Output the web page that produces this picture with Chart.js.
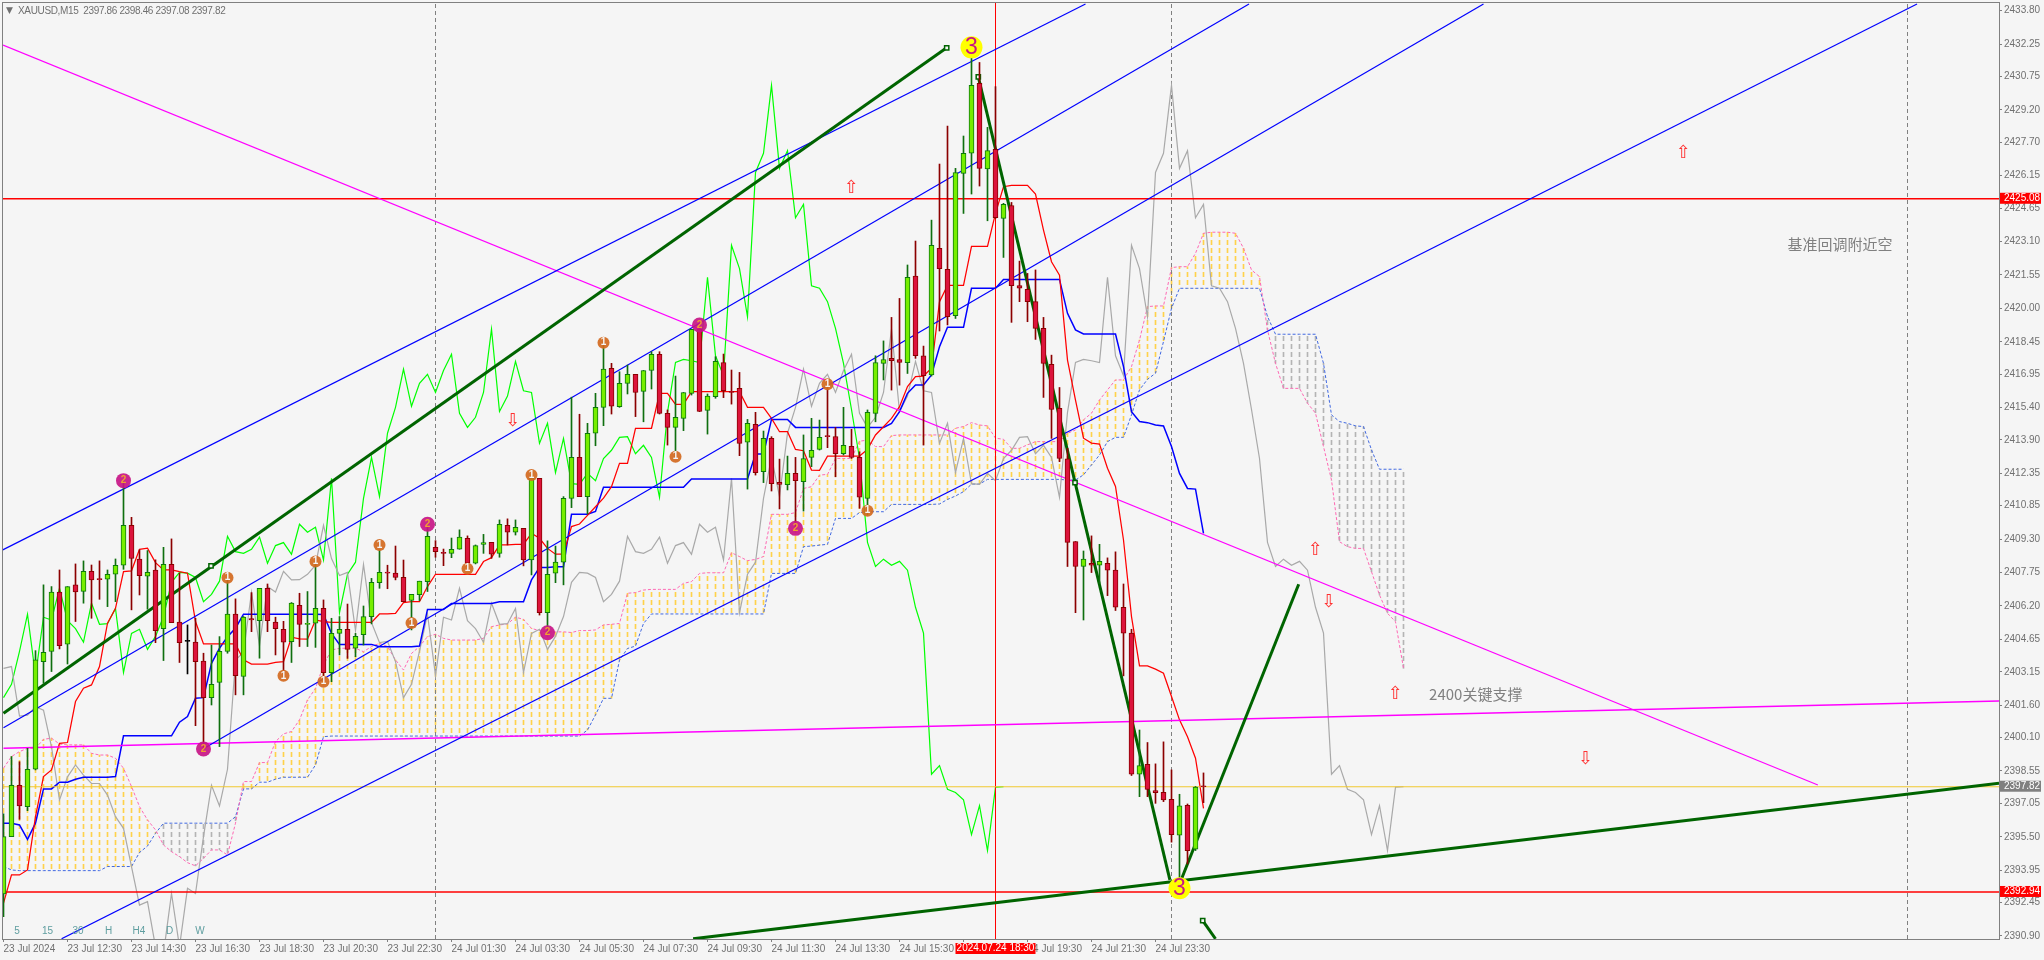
<!DOCTYPE html>
<html>
<head>
<meta charset="utf-8">
<title>XAUUSD,M15</title>
<script src="https://cdn.jsdelivr.net/npm/chart.js@4"></script>
<style>
  html, body { margin: 0; padding: 0; background: #f5f5f5; }
  canvas { display: block; }
</style>
</head>
<body>
<canvas id="chart" width="2044" height="960"></canvas>
<script>
// candles (bar index = array index)
const opens = [
  2392.85,2395.51,2397.89,2396.90,2398.63,2403.62,2404.09,2406.84,2404.43,2407.18,
  2406.88,2407.81,2407.44,2407.44,2407.67,2408.09,2409.94,2408.37,2407.58,2407.86,
  2405.15,2408.13,2405.45,2404.56,2404.53,2403.64,2401.95,2402.66,2404.09,2405.82,
  2402.93,2405.62,2405.52,2407.02,2405.45,2405.12,2404.55,2406.23,2405.35,2405.40,
  2406.09,2403.11,2404.93,2405.12,2404.24,2404.87,2405.71,2407.28,2407.76,2407.72,
  2407.53,2406.46,2406.73,2407.33,2408.92,2408.69,2408.64,2408.83,2409.34,2408.18,
  2409.05,2409.15,2408.64,2409.94,2409.62,2409.80,2408.33,2412.12,2405.89,2407.72,
  2408.23,2411.19,2413.09,2411.27,2414.21,2415.41,2417.22,2415.44,2416.52,2416.94,
  2416.15,2417.12,2417.87,2415.13,2414.48,2414.90,2416.06,2419.03,2415.27,2415.90,
  2417.49,2416.15,2416.29,2413.79,2414.62,2412.43,2413.97,2411.93,2411.82,2412.35,
  2411.96,2413.09,2413.46,2414.08,2414.06,2413.26,2413.60,2413.09,2411.19,2415.13,
  2417.45,2417.68,2417.63,2417.48,2421.50,2417.80,2416.91,2422.78,2421.81,2419.66,
  2426.26,2427.19,2430.43,2426.47,2427.37,2424.17,2424.77,2421.06,2420.88,2420.31,
  2419.07,2417.40,2415.36,2413.02,2409.19,2408.03,2408.18,2408.09,2408.18,2407.86,
  2406.14,2404.94,2398.40,2398.86,2397.64,2397.56,2397.24,2395.57,2396.96,2394.92,2397.86
];
const highs = [
  2396.56,2399.22,2398.98,2399.60,2404.13,2407.18,2407.10,2407.87,2407.10,2408.15,
  2408.29,2408.10,2408.29,2407.87,2408.38,2411.97,2410.31,2408.80,2408.77,2408.34,
  2408.92,2409.31,2407.72,2405.32,2405.63,2404.01,2404.39,2404.78,2407.49,2406.53,
  2405.71,2406.82,2407.02,2407.22,2405.68,2405.49,2406.36,2406.79,2406.87,2408.26,
  2406.48,2405.63,2405.71,2406.29,2404.93,2406.20,2407.48,2408.80,2408.09,2408.98,
  2408.33,2406.74,2407.35,2409.88,2409.23,2408.84,2409.35,2409.73,2409.45,2409.03,
  2409.52,2409.15,2410.19,2410.24,2410.19,2409.80,2412.28,2412.12,2409.22,2408.98,
  2411.27,2415.88,2415.09,2414.67,2416.06,2418.46,2417.45,2417.06,2417.37,2416.94,
  2417.12,2417.99,2417.99,2415.29,2416.86,2416.10,2419.03,2419.15,2416.03,2417.76,
  2417.88,2417.14,2417.03,2414.85,2415.18,2414.31,2414.05,2413.01,2413.15,2413.09,
  2414.13,2414.90,2414.82,2416.45,2414.48,2415.41,2414.39,2413.35,2415.29,2417.80,
  2418.49,2419.58,2420.46,2422.01,2423.12,2418.25,2424.09,2426.69,2428.45,2426.49,
  2427.99,2431.82,2431.40,2428.39,2430.28,2424.87,2424.91,2422.19,2421.62,2421.78,
  2419.58,2417.83,2416.33,2413.51,2409.19,2408.75,2409.45,2409.06,2408.43,2408.71,
  2407.22,2405.12,2400.45,2399.87,2398.88,2399.90,2398.60,2397.47,2397.02,2397.83,2398.46
];
const lows = [
  2391.80,2395.51,2396.31,2396.71,2398.60,2402.62,2403.16,2404.21,2403.51,2405.48,
  2406.33,2405.63,2406.51,2406.17,2406.40,2407.90,2406.02,2406.71,2406.05,2404.50,
  2403.67,2405.43,2403.58,2403.05,2400.65,2399.60,2401.61,2399.68,2404.01,2402.08,
  2402.08,2405.01,2403.78,2405.01,2403.93,2402.93,2403.58,2404.32,2404.32,2404.28,
  2402.77,2402.69,2403.93,2403.77,2403.85,2404.39,2405.37,2407.02,2407.00,2407.41,
  2406.39,2405.09,2406.45,2406.87,2408.46,2408.07,2408.44,2408.83,2408.03,2408.15,
  2408.64,2408.41,2408.46,2409.03,2409.49,2408.06,2407.64,2405.78,2404.93,2407.28,
  2407.18,2410.76,2411.27,2410.47,2413.63,2414.56,2415.10,2415.41,2416.03,2414.98,
  2414.74,2416.26,2415.10,2413.66,2413.12,2414.33,2415.98,2415.21,2414.17,2415.83,
  2415.86,2415.56,2413.17,2411.62,2412.27,2411.92,2411.53,2410.70,2411.58,2409.80,
  2410.60,2412.66,2413.43,2413.54,2412.19,2413.20,2413.04,2410.73,2410.42,2414.74,
  2416.68,2416.21,2416.44,2416.98,2417.68,2413.66,2416.86,2418.95,2419.23,2419.53,
  2424.40,2425.30,2425.67,2424.06,2424.17,2422.36,2419.35,2420.31,2419.38,2418.56,
  2415.87,2413.97,2412.89,2408.03,2405.89,2405.55,2407.75,2407.25,2406.68,2405.99,
  2402.96,2398.34,2397.36,2397.36,2397.05,2397.13,2395.25,2393.42,2394.24,2394.86,2397.08
];
const closes = [
  2395.51,2397.89,2396.93,2398.63,2403.70,2404.05,2406.84,2404.36,2407.10,2406.85,
  2407.81,2407.41,2407.42,2407.67,2408.09,2409.94,2408.40,2407.61,2407.76,2405.06,
  2408.13,2405.43,2404.50,2404.56,2403.62,2401.95,2402.57,2404.10,2405.82,2402.97,
  2405.68,2405.55,2407.02,2405.52,2405.15,2404.52,2406.33,2405.35,2405.38,2406.09,
  2403.11,2404.93,2405.12,2404.19,2404.79,2405.71,2407.30,2407.76,2407.72,2407.52,
  2406.40,2406.74,2407.35,2409.43,2408.72,2408.64,2408.83,2409.39,2408.18,2409.00,
  2409.14,2408.60,2409.99,2409.62,2409.85,2408.33,2412.12,2405.89,2407.67,2408.23,
  2411.19,2413.09,2411.27,2414.21,2415.41,2417.18,2415.46,2416.52,2416.94,2416.10,
  2417.12,2417.87,2415.13,2414.48,2414.95,2416.10,2419.03,2415.22,2415.93,2417.54,
  2416.18,2416.10,2413.74,2414.67,2412.38,2413.97,2411.87,2411.84,2412.35,2412.01,
  2413.04,2413.42,2414.02,2414.05,2413.26,2413.65,2413.09,2411.24,2415.18,2417.49,
  2417.63,2417.57,2417.49,2421.44,2417.80,2416.88,2422.92,2421.84,2419.61,2426.30,
  2427.19,2430.34,2426.49,2427.31,2424.20,2424.82,2421.05,2420.93,2420.31,2419.07,
  2417.45,2415.31,2413.04,2409.15,2408.03,2408.37,2408.09,2408.27,2407.86,2406.14,
  2404.94,2398.40,2398.80,2397.70,2397.55,2397.21,2395.60,2396.94,2394.86,2397.80,2397.82
];

// ichimoku lines
const tenkan = [
  2392.42,2393.73,2393.73,2393.96,2396.43,2398.29,2398.60,2399.83,2399.87,2401.77,
  2402.39,2402.54,2403.39,2405.40,2406.09,2407.79,2407.83,2408.83,2408.88,2408.21,
  2407.87,2407.87,2407.79,2407.72,2405.48,2404.44,2404.44,2404.44,2404.44,2404.44,
  2403.70,2403.51,2403.50,2403.51,2403.59,2403.62,2404.75,2404.67,2404.66,2405.55,
  2405.48,2405.44,2405.44,2405.44,2405.44,2405.44,2405.44,2405.83,2405.83,2405.86,
  2406.36,2406.40,2406.40,2407.10,2407.67,2407.67,2407.67,2407.67,2407.67,2407.67,
  2408.26,2408.44,2409.03,2409.03,2409.06,2409.06,2409.57,2409.34,2408.87,2408.60,
  2408.60,2409.88,2410.00,2410.40,2410.80,2411.20,2411.73,2412.81,2412.81,2414.44,
  2414.44,2414.44,2416.06,2416.06,2415.55,2415.55,2416.14,2416.14,2416.14,2416.14,
  2416.14,2416.14,2416.14,2415.41,2415.41,2415.41,2414.90,2414.28,2414.28,2413.46,
  2413.40,2412.50,2412.49,2413.15,2413.15,2413.15,2413.15,2413.15,2413.46,2414.13,
  2414.51,2414.90,2415.44,2416.37,2416.83,2416.86,2417.22,2420.31,2421.06,2421.06,
  2421.06,2422.87,2422.87,2422.87,2424.40,2425.64,2425.70,2425.70,2425.70,2425.30,
  2423.63,2422.16,2421.54,2417.60,2415.75,2413.98,2413.75,2413.71,2412.59,2411.74,
  2409.26,2405.71,2403.42,2403.42,2403.27,2403.08,2402.00,2400.92,2400.14,2399.14,2396.82
];
const kijun = [
  2396.13,2396.13,2396.05,2395.38,2396.13,2397.72,2397.72,2398.03,2398.03,2398.17,
  2398.26,2398.26,2398.26,2398.26,2398.29,2400.18,2400.18,2400.18,2400.18,2400.18,
  2400.18,2400.18,2400.81,2401.07,2401.92,2401.95,2403.54,2404.24,2404.78,2405.17,
  2405.82,2405.82,2405.82,2405.82,2405.82,2405.82,2405.82,2405.82,2405.82,2405.82,
  2405.81,2404.93,2404.42,2404.42,2404.42,2404.42,2404.42,2404.31,2404.31,2404.31,
  2404.31,2404.31,2404.34,2406.04,2406.04,2406.04,2406.32,2406.32,2406.32,2406.32,
  2406.32,2406.32,2406.40,2406.40,2406.40,2406.40,2407.41,2407.99,2407.99,2408.02,
  2408.02,2410.45,2410.45,2410.45,2410.58,2411.70,2411.70,2411.70,2411.70,2411.70,
  2411.70,2411.70,2411.70,2411.70,2411.70,2411.70,2412.09,2412.09,2412.09,2412.09,
  2412.09,2412.09,2412.09,2412.09,2413.25,2413.25,2414.85,2414.85,2414.85,2414.48,
  2414.48,2414.48,2414.48,2414.48,2414.48,2414.48,2414.48,2414.48,2414.48,2414.48,
  2414.48,2414.67,2415.21,2416.06,2416.45,2416.45,2416.91,2418.22,2419.12,2419.12,
  2419.12,2420.93,2420.93,2420.93,2420.93,2421.34,2421.34,2421.34,2421.34,2421.34,
  2421.34,2421.34,2421.34,2419.77,2419.00,2418.81,2418.81,2418.81,2418.81,2418.81,
  2417.30,2415.21,2414.75,2414.70,2414.59,2414.55,2413.59,2412.35,2411.65,2411.62,2409.57
];
const senkouA = [
  2398.68,2399.22,2399.45,2399.60,2399.60,2400.02,2400.07,2399.80,2399.76,2399.76,
  2399.76,2399.37,2399.29,2399.29,2399.14,2398.68,2397.83,2396.90,2396.28,2395.82,
  2395.12,2394.81,2394.58,2394.30,2394.15,2394.50,2394.89,2394.89,2394.66,2396.13,
  2398.06,2398.06,2398.94,2398.94,2399.91,2400.27,2400.38,2400.92,2401.84,2402.38,
  2403.47,2404.16,2404.24,2404.24,2404.24,2404.08,2404.32,2404.47,2404.32,2403.70,
  2403.23,2404.00,2404.32,2404.78,2404.89,2404.70,2404.62,2404.62,2404.62,2404.62,
  2404.70,2405.24,2405.32,2405.37,2405.68,2405.58,2405.16,2405.06,2405.00,2405.00,
  2405.00,2404.97,2405.06,2405.06,2405.09,2405.32,2405.35,2405.39,2406.79,2406.82,
  2406.94,2406.97,2406.97,2406.97,2406.97,2407.25,2407.33,2407.71,2407.74,2407.74,
  2407.74,2408.67,2408.49,2408.30,2408.36,2408.49,2410.45,2410.45,2410.45,2410.53,
  2411.65,2411.73,2412.27,2412.30,2413.04,2413.04,2413.04,2413.84,2413.89,2413.59,
  2413.59,2414.10,2414.13,2414.13,2414.13,2414.13,2414.13,2414.13,2414.13,2414.44,
  2414.52,2414.70,2414.59,2414.55,2413.98,2413.93,2413.51,2413.51,2413.67,2413.82,
  2413.82,2413.82,2413.82,2414.21,2414.36,2414.83,2415.14,2415.75,2416.22,2416.68,
  2416.68,2417.30,2418.53,2420.08,2420.11,2420.11,2421.89,2421.93,2421.93,2422.55,
  2423.48,2423.53,2423.53,2423.53,2423.48,2422.79,2421.78,2421.47,2419.00,2417.45,
  2416.29,2416.29,2416.29,2415.60,2415.14,2413.59,2412.04,2409.18,2408.95,2408.87,
  2408.87,2407.79,2406.71,2405.86,2405.47,2403.31
];
const senkouB = [
  2394.12,2393.96,2393.93,2393.93,2393.93,2393.93,2393.93,2393.93,2393.93,2393.93,
  2393.93,2393.93,2393.93,2394.12,2394.12,2394.12,2394.12,2394.77,2395.07,2395.66,
  2396.13,2396.13,2396.13,2396.13,2396.13,2396.13,2396.13,2396.13,2396.13,2396.43,
  2397.72,2397.72,2398.03,2398.03,2398.17,2398.26,2398.26,2398.26,2398.26,2398.83,
  2400.14,2400.17,2400.17,2400.17,2400.17,2400.17,2400.17,2400.17,2400.17,2400.17,
  2400.17,2400.17,2400.17,2400.17,2400.17,2400.17,2400.17,2400.17,2400.17,2400.17,
  2400.17,2400.17,2400.17,2400.17,2400.17,2400.17,2400.17,2400.17,2400.17,2400.17,
  2400.17,2400.17,2400.17,2400.45,2401.15,2401.92,2401.92,2403.69,2404.23,2404.34,
  2405.39,2405.83,2405.83,2405.83,2405.83,2405.83,2405.83,2405.83,2405.83,2405.83,
  2405.83,2405.83,2405.83,2405.83,2405.83,2405.83,2407.71,2407.71,2407.71,2407.71,
  2408.95,2408.98,2409.02,2409.06,2410.26,2410.26,2410.26,2410.53,2410.57,2410.57,
  2410.57,2410.91,2410.91,2410.91,2410.91,2410.91,2410.91,2410.93,2411.14,2411.30,
  2411.50,2411.85,2411.85,2412.07,2412.07,2412.07,2412.07,2412.07,2412.07,2412.07,
  2412.07,2412.07,2412.07,2412.04,2412.04,2412.28,2412.74,2413.20,2413.82,2414.02,
  2414.02,2415.06,2416.22,2416.71,2416.99,2418.46,2420.00,2420.93,2420.93,2420.93,
  2420.93,2420.93,2420.93,2420.93,2420.93,2420.93,2420.93,2420.93,2419.62,2418.80,
  2418.80,2418.80,2418.80,2418.80,2418.80,2417.45,2415.06,2414.75,2414.67,2414.55,
  2414.52,2413.44,2412.54,2412.54,2412.54,2412.54
];
// grey line, the bars before the visible window
const laggedHead = [
  2403.31,2403.39,2401.10,2401.14,2401.53,2401.37,2399.67,2397.20,2398.28,2398.83,
  2398.36,2397.97,2397.97,2397.43,2396.43,2395.89,2394.11,2392.33,2392.49,2390.40,
  2390.09,2392.87,2390.40,2393.11,2392.87
];
const chikouShift = 25;

// drawn objects: [[bar, price], ...]
const channelLines = [
  [[-0.1, 2408.80], [135.25, 2434.11]],
  [[0, 2400.55], [155.69, 2434.11]],
  [[24.88, 2399.56], [185, 2434.11]],
  [[7.26, 2390.77], [239.19, 2434.11]]
];
const magentaLines = [
  [[-0.06, 2432.21], [226.8, 2397.90]],
  [[0, 2399.60], [249.44, 2401.80]]
];
const trendLines = [
  [[0, 2401.23], [117.9, 2432.08]],
  [[121.85, 2430.73], [145.8, 2393.50]],
  [[147.3, 2393.59], [161.9, 2407.21]],
  [[149.9, 2391.61], [151.5, 2390.77]],
  [[86.2, 2390.77], [249.44, 2397.98]]
];
const trendAnchors = [[117.9, 2432.08], [25.94, 2408.06], [121.85, 2430.73], [133.94, 2411.92], [149.9, 2391.61]];
const supportLevels = [2425.08, 2392.94];
const lastPrice = 2397.82;
const periodSeparators = [54, 146, 238];
const crosshairBar = 124;

const waveOne = [[28, 2407.51], [35, 2402.96], [39, 2408.26], [40, 2402.69], [47, 2409.03], [51, 2405.41],
  [58, 2407.93], [66, 2412.27], [75, 2418.41], [84, 2413.12], [103, 2416.48], [108, 2410.62]];
const waveTwo = [[15, 2412.01], [25, 2399.57], [53, 2409.99], [68, 2404.96], [87, 2419.23], [99, 2409.80]];
const waveThree = [[121, 2432.10], [147, 2393.11]];

const arrowsUp = [[106, 2425.58], [210, 2427.20], [164, 2408.77], [174, 2402.11]];
const arrowsDown = [[63.7, 2414.75], [165.7, 2406.35], [197.8, 2399.09]];
const notes = [['基准回调附近空', 223, 2422.98], ['2400关键支撑', 178.2, 2402.11]];

const priceTicks = [2433.80,2432.25,2430.75,2429.20,2427.70,2426.15,2424.65,2423.10,2421.55,2420.00,
  2418.45,2416.95,2415.40,2413.90,2412.35,2410.85,2409.30,2407.75,2406.20,2404.65,2403.15,2401.60,
  2400.10,2398.55,2397.05,2395.50,2393.95,2392.45,2390.90];
const timeLabels = ['23 Jul 2024','23 Jul 12:30','23 Jul 14:30','23 Jul 16:30','23 Jul 18:30','23 Jul 20:30',
  '23 Jul 22:30','24 Jul 01:30','24 Jul 03:30','24 Jul 05:30','24 Jul 07:30','24 Jul 09:30','24 Jul 11:30',
  '24 Jul 13:30','24 Jul 15:30','24 Jul 17:30','24 Jul 19:30','24 Jul 21:30','24 Jul 23:30'];
const timeTickStep = 8;
const timeframes = ['5', '15', '30', 'H', 'H4', 'D', 'W'];
const header = 'XAUUSD,M15  2397.86 2398.46 2397.08 2397.82';
const crosshairTime = '2024.07.24 18:30';

const uiFont = '"Liberation Sans", sans-serif';
const grey = '#808080';
const tickGrey = '#707070';

function toPoints(pairs) {
  return pairs.map(p => ({ x: p[0], y: p[1] }));
}
function seriesPoints(values, offset) {
  return values.map((v, i) => ({ x: i + (offset || 0), y: v }));
}
function line(data, color, width, order, dash) {
  return { type: 'line', data: data, borderColor: color, borderWidth: width, borderDash: dash || [],
    pointRadius: 0, tension: 0, fill: false, order: order };
}
function bars(data, fill, border, thickness, order) {
  return { type: 'bar', data: data, backgroundColor: fill, borderColor: border,
    borderWidth: thickness > 1 ? 1 : 0, borderSkipped: false, barThickness: thickness,
    grouped: false, minBarLength: 1, order: order };
}
function markers(data, color, radius, order) {
  return { type: 'line', showLine: false, data: toPoints(data), pointStyle: 'circle', pointRadius: radius,
    pointBackgroundColor: color, pointBorderWidth: 0, order: order };
}
function hatch(color) {
  const c = document.createElement('canvas');
  c.width = 1;
  c.height = 8;
  const g = c.getContext('2d');
  g.fillStyle = color;
  g.fillRect(0, 0, 1, 5);
  return g.createPattern(c, 'repeat');
}

// candle parts
const upBodies = [], downBodies = [], upWicks = [], downWicks = [], flatWicks = [], flatBodies = [];
closes.forEach((c, i) => {
  const body = { x: i, y: [opens[i], c] };
  const wick = { x: i, y: [lows[i], highs[i]] };
  if (c > opens[i]) { upBodies.push(body); upWicks.push(wick); }
  else if (c < opens[i]) { downBodies.push(body); downWicks.push(wick); }
  else { flatBodies.push(body); flatWicks.push(wick); }
});

// cloud hatching, orange where A is on top, grey where B is
const cloudUp = [], cloudDown = [];
senkouA.forEach((a, i) => {
  (a >= senkouB[i] ? cloudUp : cloudDown).push({ x: i, y: [senkouB[i], a] });
});

// the two lagged lines are the closes moved back and forward
const chikouGreen = seriesPoints(closes.slice(chikouShift), 0);
const chikouGrey = seriesPoints(laggedHead.concat(closes), 0);

const yTop = 2434.157, yBottom = 2390.76, xLeft = -0.0625, xRight = 249.4375;

const datasets = [
  bars(cloudUp, hatch('#ffd24a'), 'transparent', 1, 90),
  bars(cloudDown, hatch('#b4b4b4'), 'transparent', 1, 90),
  line(seriesPoints(senkouA), '#ff69b4', 1, 80, [3, 2]),
  line(seriesPoints(senkouB), '#4169e1', 1, 80, [3, 2]),
  line(chikouGrey, '#a9a9a9', 1.2, 70),
  line(chikouGreen, '#00ff00', 1.2, 70),
  line(seriesPoints(tenkan), '#ff0000', 1.25, 60),
  line(seriesPoints(kijun), '#0000ff', 1.5, 60)
];
periodSeparators.forEach(b => {
  datasets.push(line(toPoints([[b, yBottom], [b, yTop]]), grey, 1, 85, [4, 3]));
});
channelLines.forEach(l => datasets.push(line(toPoints(l), '#0000ff', 1.2, 50)));
magentaLines.forEach((l, i) => datasets.push(line(toPoints(l), '#ff00ff', i ? 1.5 : 1.2, 50)));
supportLevels.forEach(v => {
  datasets.push(line(toPoints([[xLeft, v], [xRight, v]]), '#ff0000', 1.5, 55));
});
datasets.push(line(toPoints([[xLeft, lastPrice], [xRight, lastPrice]]), '#f0c830', 1.2, 55));
datasets.push(line(toPoints([[crosshairBar, yBottom], [crosshairBar, yTop]]), '#ff0000', 1, 55));
trendLines.forEach(l => datasets.push(line(toPoints(l), '#006400', 3, 40)));
datasets.push({ type: 'line', showLine: false, data: toPoints(trendAnchors), pointStyle: 'rect', pointRadius: 3,
  pointBackgroundColor: '#f5f5f5', pointBorderColor: '#006400', pointBorderWidth: 1.5, order: 39 });
datasets.push(
  bars(upWicks, '#0f6f0f', 'transparent', 1, 20),
  bars(downWicks, '#8b0000', 'transparent', 1, 20),
  bars(flatWicks, '#000000', 'transparent', 1, 20),
  bars(upBodies, '#76ee00', '#0b7a0b', 5, 10),
  bars(downBodies, '#dc143c', '#8b0000', 5, 10),
  bars(flatBodies, '#000000', '#000000', 5, 10),
  markers(waveOne, 'rgba(210,105,30,0.92)', 6, 5),
  markers(waveTwo, 'rgba(199,21,133,0.92)', 7.5, 5),
  markers(waveThree, '#ffff00', 11, 5)
);

// all the text that is not an axis tick
const overlay = {
  id: 'overlay',
  beforeDraw(chart) {
    const g = chart.ctx;
    g.save();
    g.fillStyle = '#f5f5f5';
    g.fillRect(0, 0, chart.width, chart.height);
    g.restore();
  },
  afterDatasetsDraw(chart) {
    const g = chart.ctx, x = chart.scales.x, y = chart.scales.y, a = chart.chartArea;
    g.save();
    g.textAlign = 'center';
    g.textBaseline = 'middle';

    function waveLabels(list, text, color, font) {
      g.fillStyle = color;
      g.font = font;
      list.forEach(p => g.fillText(text, x.getPixelForValue(p[0]), y.getPixelForValue(p[1])));
    }
    waveLabels(waveOne, '1', '#f5f5f5', 'bold 10px ' + uiFont);
    waveLabels(waveTwo, '2', '#f0a030', 'bold 10px ' + uiFont);
    waveLabels(waveThree, '3', '#c71585', '23px ' + uiFont);

    g.fillStyle = '#ff3030';
    g.font = '18px "DejaVu Sans"';
    arrowsUp.forEach(p => g.fillText('\u21e7', x.getPixelForValue(p[0]), y.getPixelForValue(p[1])));
    arrowsDown.forEach(p => g.fillText('\u21e9', x.getPixelForValue(p[0]), y.getPixelForValue(p[1])));

    g.textAlign = 'left';
    g.fillStyle = grey;
    g.font = '15px "Noto Sans CJK SC"';
    notes.forEach(n => g.fillText(n[0], x.getPixelForValue(n[1]), y.getPixelForValue(n[2])));

    g.fillStyle = tickGrey;
    g.font = '10px ' + uiFont;
    g.letterSpacing = '-0.35px';
    g.fillText(header, a.left + 15, a.top + 8);
    g.letterSpacing = '0px';
    g.font = '9px "DejaVu Sans"';
    g.fillText('\u25bc', a.left + 3, a.top + 8);

    g.textAlign = 'center';
    g.font = '10px ' + uiFont;
    g.fillStyle = '#5f9ea0';
    timeframes.forEach((t, i) => g.fillText(t, a.left + 14 + i * 30.5, a.bottom - 8));

    // frame
    g.strokeStyle = grey;
    g.lineWidth = 1;
    g.strokeRect(a.left - 0.5, a.top - 0.5, a.right - a.left + 1, a.bottom - a.top + 1);
    g.restore();
  },
  afterDraw(chart) {
    const g = chart.ctx, x = chart.scales.x, y = chart.scales.y, a = chart.chartArea;
    g.save();
    g.font = '10px ' + uiFont;
    g.textBaseline = 'middle';

    function priceTag(v, color) {
      const py = y.getPixelForValue(v);
      g.fillStyle = color;
      g.fillRect(a.right + 1, py - 6, 41, 11);
      g.fillStyle = '#ffffff';
      g.textAlign = 'left';
      g.fillText(v.toFixed(2), a.right + 5, py - 0.5);
    }
    supportLevels.forEach(v => priceTag(v, '#ff0000'));
    priceTag(lastPrice, grey);

    const cx = x.getPixelForValue(crosshairBar);
    g.fillStyle = '#ff0000';
    g.fillRect(cx - 40, 943, 80, 11);
    g.fillStyle = '#ffffff';
    g.textAlign = 'center';
    g.fillText(crosshairTime, cx, 948.5);
    g.restore();
  }
};

new Chart(document.getElementById('chart'), {
  type: 'line',
  data: { datasets: datasets },
  plugins: [overlay],
  options: {
    responsive: false,
    animation: false,
    devicePixelRatio: 1,
    events: [],
    layout: { autoPadding: false, padding: { left: 3, top: 3, right: 0, bottom: 0 } },
    plugins: { legend: { display: false }, tooltip: { enabled: false } },
    scales: {
      x: {
        type: 'linear',
        offset: false,
        min: xLeft,
        max: xRight,
        grid: { offset: false, drawOnChartArea: false, drawTicks: true, tickLength: 3, color: grey },
        border: { color: grey },
        afterBuildTicks(scale) {
          scale.ticks = timeLabels.map((t, i) => ({ value: i * timeTickStep }));
        },
        afterFit(scale) {
          scale.height = 21;
          scale.paddingLeft = 0;
          scale.paddingRight = 0;
        },
        ticks: {
          autoSkip: false,
          maxRotation: 0,
          align: 'start',
          padding: 1,
          color: tickGrey,
          font: { family: 'Liberation Sans', size: 10 },
          callback: v => timeLabels[v / timeTickStep]
        }
      },
      y: {
        position: 'right',
        min: yBottom,
        max: yTop,
        grid: { drawOnChartArea: false, drawTicks: true, tickLength: 3, color: grey },
        border: { color: grey },
        afterBuildTicks(scale) {
          scale.ticks = priceTicks.map(v => ({ value: v }));
        },
        afterFit(scale) {
          scale.width = 45;
          scale.paddingTop = 0;
          scale.paddingBottom = 0;
        },
        ticks: {
          padding: 2,
          color: tickGrey,
          font: { family: 'Liberation Sans', size: 10 },
          callback: v => v.toFixed(2)
        }
      }
    }
  }
});
</script>
</body>
</html>
